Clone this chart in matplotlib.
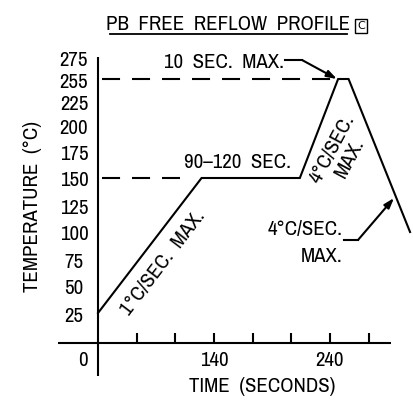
import numpy as np
import matplotlib
matplotlib.use("Agg")
import matplotlib.pyplot as plt
from matplotlib.transforms import IdentityTransform, blended_transform_factory

# ---- data ----
profile_time = [0, 125, 214, 247, 256, 309]          # seconds
profile_temp = [25, 150, 150, 255, 255, 100]         # deg C
ytick_values = [275, 255, 225, 200, 175, 150, 125, 100, 75, 50, 25]
xtick_labels = ["0", "140", "240"]
xtick_label_values = [0, 140, 240]
xtick_marks = [46.7, 93.3, 140, 173.3, 206.7, 240, 273.3]
soak_temp = 150
peak_temp = 255

# ---- schematic (non-uniform) scales ----
W, H = 414, 409
x_knots_val = [-200, 0, 140, 240, 500]
x_knots_px = [98 - 165.7, 98, 214, 330, 330 + 260 * 1.16]
y_knots_val = [-100, 0, 25, 50, 75, 100, 125, 150, 175, 200, 225, 255, 275, 500]
y_knots_top = [463, 343, 313, 286, 259, 232, 206, 178, 151, 125, 101, 79, 58, -178]
y_knots_px = [H - t for t in y_knots_top]

def xf(v): return np.interp(v, x_knots_val, x_knots_px)
def xi(p): return np.interp(p, x_knots_px, x_knots_val)
def yf(v): return np.interp(v, y_knots_val, y_knots_px)
def yi(p): return np.interp(p, y_knots_px, y_knots_val)

plt.rcParams['lines.scale_dashes'] = False
plt.rcParams['font.family'] = ['Archivo Narrow', 'DejaVu Sans']
FS = 15

fig = plt.figure(figsize=(W / 100, H / 100), dpi=100)
ax = fig.add_axes([0, 0, 1, 1])
ax.set_xscale('function', functions=(xf, xi))
ax.set_yscale('function', functions=(yf, yi))
ax.set_xlim(xi(0), xi(W))
ax.set_ylim(yi(0), yi(H))
ax.axis('off')

pix = IdentityTransform()
def P(x, ytop):
    return (x, H - ytop)

LW = 1.5
k = 'black'
TK = dict(fontsize=FS)

# axes lines
ax.plot([xi(58), xi(391)], [0, 0], color=k, lw=LW, solid_capstyle='butt')
ax.plot([0, 0], [yi(H - 376), yi(H - 57)], color=k, lw=LW, solid_capstyle='butt')
ax.vlines(xtick_marks, 0, 8.5, color=k, lw=LW)

# profile
ax.plot(profile_time, profile_temp, color=k, lw=LW, solid_joinstyle='miter')

# dashed reference lines
ax.plot([xi(102), xi(180)], [soak_temp, soak_temp], color=k, lw=LW, dashes=(13, 8.6))
ax.plot([xi(102), profile_time[3]], [peak_temp, peak_temp], color=k, lw=LW, dashes=(13, 8.6))

# y tick labels
bt = blended_transform_factory(pix, ax.transData)
for v in ytick_values:
    ax.annotate(str(v), xy=(74, v), xycoords=bt, xytext=(0, -3),
                textcoords='offset pixels', ha='center', va='center', **TK)
bx = blended_transform_factory(ax.transData, pix)
for v, s in zip(xtick_label_values, xtick_labels):
    xx = v if v != 0 else xi(83)
    ax.text(xx, H - 360, s, transform=bx, ha='center', va='center', **TK)

# axis titles
ax.text(*P(262, 387), "TIME  (SECONDS)", transform=pix, ha='center', va='center', **TK)
ax.text(*P(33, 206), "TEMPERATURE  (°C)", transform=pix, ha='center', va='center',
        rotation=90, **TK)

# title
ax.text(*P(228, 24), "PB  FREE  REFLOW  PROFILE", transform=pix, ha='center', va='center', **TK)
ax.plot([110, 347], [H - 34, H - 34], color=k, lw=1.3, transform=pix)
ax.text(*P(361, 26), "C", transform=pix, ha='center', va='center', fontsize=8,
        family='DejaVu Sans',
        bbox=dict(boxstyle='square,pad=0.2', fc='white', ec=k, lw=1.0))

# annotations
ax.text(*P(224, 62), "10  SEC.  MAX.", transform=pix, ha='center', va='center', **TK)
ax.plot([285, 302], [H - 60, H - 60], color=k, lw=LW, transform=pix)
ax.annotate("", xy=(profile_time[3] - 1, peak_temp), xycoords='data',
            xytext=P(302, 60), textcoords=pix,
            arrowprops=dict(arrowstyle='-|>,head_length=0.6,head_width=0.2', color=k, lw=LW,
                            shrinkA=0, shrinkB=0))

ax.text(*P(238, 163), "90–120  SEC.", transform=pix, ha='center', va='center', **TK)

ax.text(*P(163, 263), "1°C/SEC.  MAX.", transform=pix, ha='center', va='center',
        rotation=52.7, rotation_mode='anchor', **TK)
ax.text(*P(341, 153), "4°C/SEC.\nMAX.", transform=pix, ha='center', va='center',
        rotation=62, rotation_mode='anchor', multialignment='center',
        linespacing=1.05, **TK)

ax.text(*P(343, 230), "4°C/SEC.", transform=pix, ha='right', va='center', **TK)
ax.text(*P(343, 257), "MAX.", transform=pix, ha='right', va='center', **TK)
ax.plot([344, 358], [H - 240, H - 240], color=k, lw=LW, transform=pix)
ax.annotate("", xy=P(394, 198), xycoords=pix, xytext=P(358, 240), textcoords=pix,
            arrowprops=dict(arrowstyle='-|>,head_length=0.6,head_width=0.2', color=k, lw=LW,
                            shrinkA=0, shrinkB=0))

fig.savefig("out.png", dpi=100)
